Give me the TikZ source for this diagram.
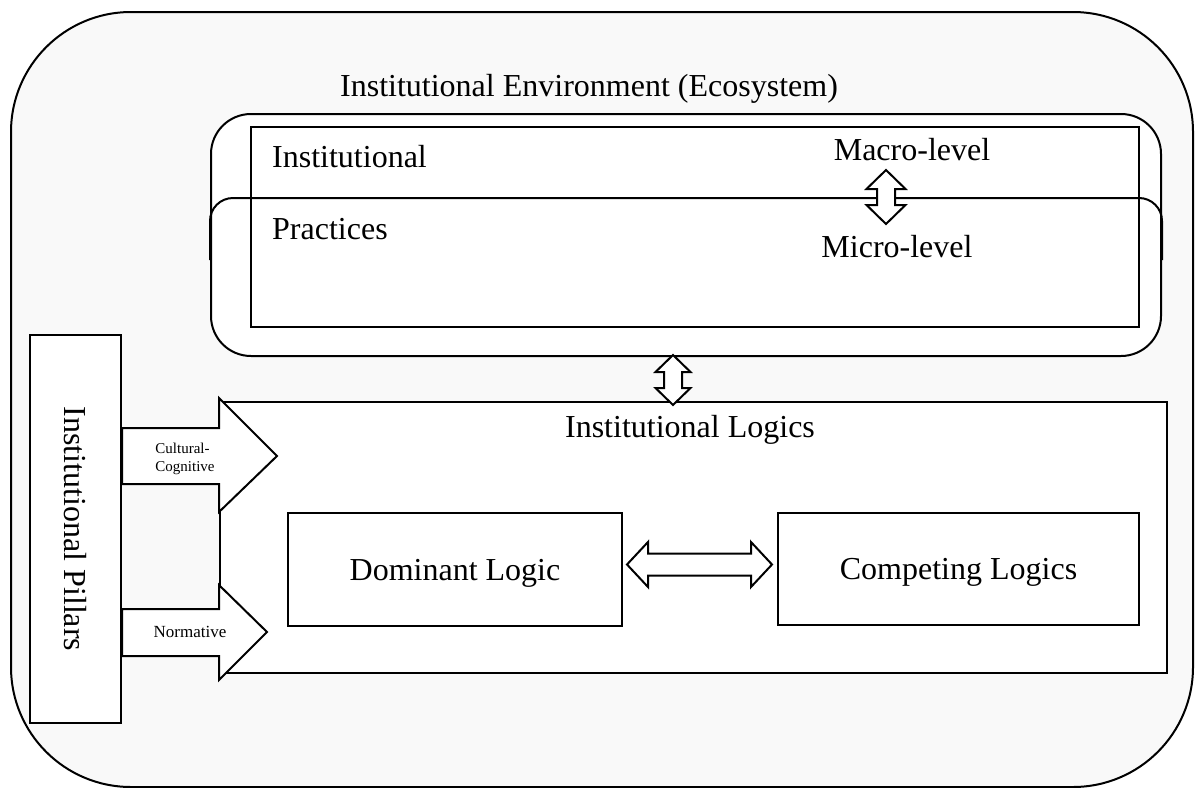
\documentclass[tikz,border=0pt]{standalone}
\usepackage{fontspec}
\setmainfont{Liberation Serif}
\definecolor{panel}{RGB}{249,249,249}

% vertical two-headed block arrow: centre x, top tip y, bottom tip y, head half-width, shaft half-width, head length
\newcommand{\vblockarrow}[6]{%
  \draw[blockarrow] (#1,#2) -- ({#1+#4},{#2+#6}) -- ({#1+#5},{#2+#6}) -- ({#1+#5},{#3-#6})
    -- ({#1+#4},{#3-#6}) -- (#1,#3) -- ({#1-#4},{#3-#6}) -- ({#1-#5},{#3-#6})
    -- ({#1-#5},{#2+#6}) -- ({#1-#4},{#2+#6}) -- cycle;}
% horizontal two-headed block arrow: centre y, left tip x, right tip x, head half-height, shaft half-height, head length
\newcommand{\hblockarrow}[6]{%
  \draw[blockarrow] (#2,#1) -- ({#2+#6},{#1-#4}) -- ({#2+#6},{#1-#5}) -- ({#3-#6},{#1-#5})
    -- ({#3-#6},{#1-#4}) -- (#3,#1) -- ({#3-#6},{#1+#4}) -- ({#3-#6},{#1+#5})
    -- ({#2+#6},{#1+#5}) -- ({#2+#6},{#1+#4}) -- cycle;}

\begin{document}
\begin{tikzpicture}[x=1pt,y=-1pt,
  frame/.style={draw=black,line width=2pt},
  box/.style={frame,fill=white,rectangle,inner sep=0pt,anchor=north west},
  bigtext/.style={font=\fontsize{32}{38}\selectfont,inner sep=0pt},
  smalltext/.style={font=\fontsize{15}{18}\selectfont,inner sep=0pt,align=left},
  normtext/.style={font=\fontsize{17}{20}\selectfont,inner sep=0pt},
  blockarrow/.style={draw=black,line width=2pt,fill=white,line join=miter}
]
\useasboundingbox (0,0) rectangle (1196,787);

% ecosystem frame
\node[box,fill=panel,rounded corners=120pt,minimum width=1182pt,minimum height=775pt] (eco) at (10,11) {};
\node[bigtext,anchor=base] (ecotitle) at (589,96) {Institutional Environment (Ecosystem)};

% environment group: outer rounded band, second rounded band, inner rectangle
\node[box,rounded corners=40pt,minimum width=950pt,minimum height=242pt] (env) at (210,113) {};
\draw[frame,rounded corners=23pt] (env.west |- 0,260) -- (env.west |- 0,198) -- (env.east |- 0,198) -- (env.east |- 0,260);
\node[frame,rectangle,inner sep=0pt,anchor=north west,minimum width=888pt,minimum height=200pt] (inner) at (250,126) {};
\node[bigtext,anchor=base west] (inst) at (272,167) {Institutional};
\node[bigtext,anchor=base west] (prac) at (272,239) {Practices};
\node[bigtext,anchor=base] (macro) at (912,160) {Macro-level};
\node[bigtext,anchor=base] (micro) at (897,257) {Micro-level};
\vblockarrow{886}{170}{224}{19.5}{9}{19}

% institutional logics
\node[box,minimum width=947pt,minimum height=271pt] (logic) at (219,401) {};
\node[bigtext,anchor=base] (logictitle) at (690,437) {Institutional Logics};
\node[box,minimum width=334pt,minimum height=113pt] (dom) at (287,512) {};
\node[bigtext,anchor=base] at (dom.center |- 0,580) {Dominant Logic};
\node[box,minimum width=361pt,minimum height=112pt] (comp) at (777,512) {};
\node[bigtext,anchor=base] at (comp.center |- 0,579) {Competing Logics};
\hblockarrow{564.5}{627}{772}{22.5}{11}{21}

% link between environment and logics
\vblockarrow{673}{355}{405}{17.5}{9}{17}

% institutional pillars
\node[box,minimum width=91pt,minimum height=388pt] (pillars) at (29,334) {};
\node[bigtext,rotate=-90] at (pillars.center) {Institutional Pillars};
\draw[blockarrow] (pillars.east |- 0,428) -- (219,428) -- (219,398) -- (277,456)
  -- (219,512) -- (219,484) -- (pillars.east |- 0,484) -- cycle;
\node[smalltext,anchor=center] (cc) at (185,459) {Cultural-\\Cognitive};
\draw[blockarrow] (pillars.east |- 0,609) -- (219,609) -- (219,585) -- (267,632)
  -- (219,680) -- (219,656) -- (pillars.east |- 0,656) -- cycle;
\node[normtext,anchor=base] (norm) at (190,637) {Normative};
\end{tikzpicture}
\end{document}
